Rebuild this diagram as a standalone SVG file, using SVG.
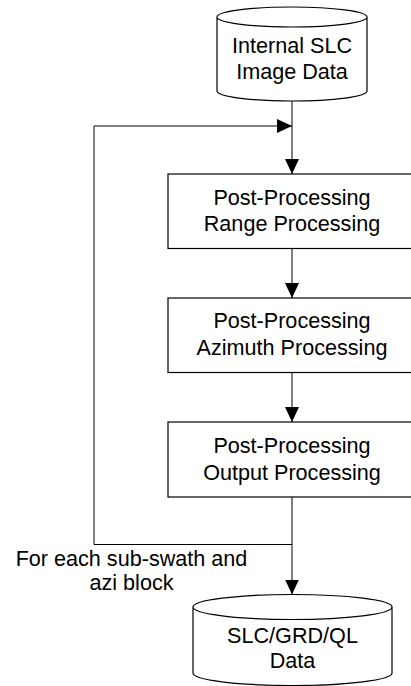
<svg xmlns="http://www.w3.org/2000/svg" width="411" height="686" viewBox="0 0 411 686">
  <style>
    .shape { fill: #ffffff; stroke: #000000; stroke-width: 1.2; }
    .conn { fill: none; stroke: #000000; stroke-width: 1; }
    .lbl { font-family: "Liberation Sans", Arial, sans-serif; font-size: 21.6px; fill: #000000; text-anchor: middle; }
  </style>
  <defs>
    <marker id="ah" viewBox="0 0 15 14" refX="15" refY="7" markerWidth="15" markerHeight="14" markerUnits="userSpaceOnUse" orient="auto">
      <path d="M0,0 L15,7 L0,14 z" fill="#000000"/>
    </marker>
  </defs>
  <rect width="411" height="686" fill="#ffffff"/>

  <g id="connectors">
    <path class="conn" d="M292,101 V174" marker-end="url(#ah)"/>
    <path class="conn" d="M292,248.5 V298" marker-end="url(#ah)"/>
    <path class="conn" d="M292,372.5 V422" marker-end="url(#ah)"/>
    <path class="conn" d="M292,497 V594.5" marker-end="url(#ah)"/>
    <path class="conn" d="M292,544.5 H94 V126 H292" marker-end="url(#ah)"/>
  </g>

  <g id="node-internal-slc">
    <path class="shape" d="M217,17 V91 A75,10 0 0 0 367,91 V17 A75,10 0 0 0 217,17 A75,10 0 0 0 367,17"/>
    <text class="lbl" x="292" y="53.3">Internal SLC</text>
    <text class="lbl" x="292" y="79">Image Data</text>
  </g>

  <g id="node-range">
    <rect class="shape" x="168" y="174" width="248" height="74.5"/>
    <text class="lbl" x="292" y="204.5">Post-Processing</text>
    <text class="lbl" x="292" y="231">Range Processing</text>
  </g>

  <g id="node-azimuth">
    <rect class="shape" x="168" y="298" width="248" height="74.5"/>
    <text class="lbl" x="292" y="328">Post-Processing</text>
    <text class="lbl" x="292" y="354.5">Azimuth Processing</text>
  </g>

  <g id="node-output">
    <rect class="shape" x="168" y="422" width="248" height="75"/>
    <text class="lbl" x="292" y="453.3">Post-Processing</text>
    <text class="lbl" x="292" y="480">Output Processing</text>
  </g>

  <g id="node-slc-grd-ql">
    <path class="shape" d="M193,607 V673 A99.5,12.5 0 0 0 392,673 V607 A99.5,12.5 0 0 0 193,607 A99.5,12.5 0 0 0 392,607"/>
    <text class="lbl" x="292.5" y="643.3">SLC/GRD/QL</text>
    <text class="lbl" x="292.5" y="668.3">Data</text>
  </g>

  <g id="label-loop">
    <text class="lbl" x="131.5" y="565.7">For each sub-swath and</text>
    <text class="lbl" x="131.5" y="590">azi block</text>
  </g>
</svg>
